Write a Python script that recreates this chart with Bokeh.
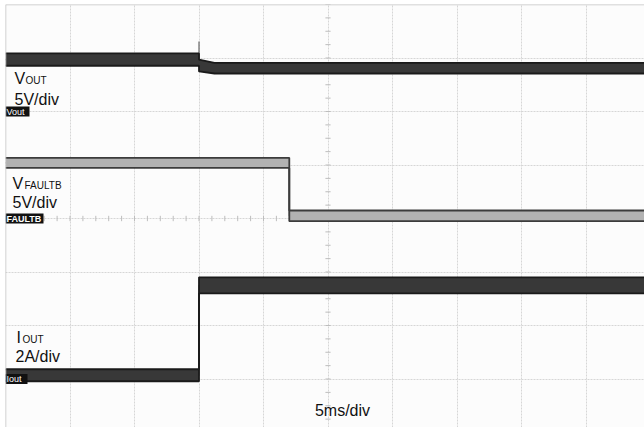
import numpy as np
from bokeh.plotting import figure
from bokeh.models import Range1d, FixedTicker, Span
from bokeh.embed import file_html
from bokeh.resources import INLINE
from bokeh.core.properties import value

# ---------------- data (read from the scope capture) ----------------
# time in ms, 5 ms/div
vout_t = [0.0, 15.0, 15.0, 16.2, 50.0]
vout_V = [4.85, 4.85, 4.3, 4.05, 4.05]
vout_spike_V = 6.55
vout_noise_pp_V = [1.15, 1.15, 1.1, 1.0, 1.0]

fault_t = [0.0, 22.0, 22.0, 50.0]
fault_V = [5.2, 5.2, 0.25, 0.25]
fault_noise_pp_V = [0.95, 0.95, 1.0, 1.0]

iout_t = [0.0, 15.0, 15.0, 50.0]
iout_A = [0.14, 0.14, 3.5, 3.5]
iout_noise_pp_A = [0.45, 0.45, 0.6, 0.6]

# channel settings: (units per div, ground position in divisions from centre)
VOUT_SCALE, VOUT_GND = 5.0, 2.0
FAULT_SCALE, FAULT_GND = 5.0, 0.0
IOUT_SCALE, IOUT_GND = 2.0, -3.0
TIME_PER_DIV = 5.0

# ---------------- layout ----------------
W, H = 644, 427
LEFT, TOP = 5, 4
PX_DIV_X, PX_DIV_Y = 64.5, 53.5
YC_PX = 218.0
x_end = TIME_PER_DIV * (W - LEFT) / PX_DIV_X
y_top = 4.0
y_bot = 4.0 - (H - TOP) / PX_DIV_Y

def tx(px):
    return TIME_PER_DIV * (px - LEFT) / PX_DIV_X

def ty(py):
    return (YC_PX - py) / PX_DIV_Y

p = figure(width=W, height=H, output_backend="svg", toolbar_location=None,
           x_range=Range1d(0, x_end), y_range=Range1d(y_bot, y_top),
           min_border=0, min_border_left=LEFT, min_border_right=0,
           min_border_top=TOP, min_border_bottom=0)
p.axis.visible = False
p.background_fill_color = "#fcfcfc"
p.border_fill_color = "white"
p.outline_line_color = None
p.xgrid.ticker = FixedTicker(ticks=list(np.arange(5, 55, TIME_PER_DIV)))
p.ygrid.ticker = FixedTicker(ticks=list(range(-4, 4)))
p.grid.grid_line_color = "#d6d6d6"
p.grid.grid_line_dash = "2 1"
p.grid.grid_line_width = 1
p.add_layout(Span(location=0, dimension="height", line_color="#c4c4c4", line_width=1.5))
p.add_layout(Span(location=4, dimension="width", line_color="#c4c4c4", line_width=1.5))

# channel ranges
p.extra_y_ranges = {
    "vout": Range1d((y_bot - VOUT_GND) * VOUT_SCALE, (y_top - VOUT_GND) * VOUT_SCALE),
    "fault": Range1d((y_bot - FAULT_GND) * FAULT_SCALE, (y_top - FAULT_GND) * FAULT_SCALE),
    "iout": Range1d((y_bot - IOUT_GND) * IOUT_SCALE, (y_top - IOUT_GND) * IOUT_SCALE),
}

# centre graticule minor ticks
tk = np.arange(0, 50.01, TIME_PER_DIV / 5)
p.segment(x0=tk, y0=-0.05, x1=tk, y1=0.05, line_color="#bdbdbd", line_width=1)
yk = np.arange(-4, 4.01, 0.25)
tl = TIME_PER_DIV * 0.04
p.segment(x0=25 - tl, y0=yk, x1=25 + tl, y1=yk, line_color="#bdbdbd", line_width=1)

def trace(t, lvl, pp, rng, fill, edge, edge_w, step_line):
    lvl = np.array(lvl, float)
    half = np.array(pp, float) / 2
    p.line(t, lvl, y_range_name=rng, line_color=step_line, line_width=1.2)
    p.varea(x=t, y1=lvl - half, y2=lvl + half, y_range_name=rng, fill_color=fill)
    p.line(t, lvl - half, y_range_name=rng, line_color=edge, line_width=edge_w)
    p.line(t, lvl + half, y_range_name=rng, line_color=edge, line_width=edge_w)

# VOUT spike at turn-off
p.line([vout_t[1], vout_t[2]], [vout_spike_V, vout_V[2]], y_range_name="vout",
       line_color="#666666", line_width=1.2)
trace(vout_t, vout_V, vout_noise_pp_V, "vout", "#383838", "#1a1a1a", 1.8, "#555555")
trace(fault_t, fault_V, fault_noise_pp_V, "fault", "#b2b2b2", "#3c3c3c", 1.8, "#555555")
trace(iout_t, iout_A, iout_noise_pp_A, "iout", "#383838", "#1a1a1a", 1.8, "#777777")

F = value("Liberation Sans")

# ground markers
markers = [("Vout", 2.0, 29), ("FAULTB", 0.0, 43), ("Iout", -3.0, 27)]
for txt, yd, right_px in markers:
    p.quad(left=0, right=tx(right_px), bottom=yd - 5 / PX_DIV_Y, top=yd + 5 / PX_DIV_Y,
           fill_color="#111111", line_color=None)
    p.text(x=[tx(6)], y=[yd], text=[txt], text_color="white", text_font=F,
           text_font_size="9px", text_baseline="middle", text_align="left",
           text_font_style="bold" if txt == "FAULTB" else "normal")

def label(px, py, s, size=16, align="left"):
    # shift so that the drawn baseline lands on py
    p.text(x=[tx(px)], y=[ty(py - 0.33 * size)], text=[s], text_color="#111111",
           text_font=F, text_font_size=f"{size}px", text_baseline="alphabetic",
           text_align=align)

label(14, 83, "V")
label(25, 83, "OUT", 10)
label(14, 104, "5V/div")
label(12, 188, "V")
label(24, 188, "FAULTB", 10)
label(12, 207, "5V/div")
label(16, 342, "I")
label(22, 342, "OUT", 10)
label(15, 361, "2A/div")
label(342, 415, "5ms/div", align="center")

open("out.html", "w").write(file_html(p, INLINE))
